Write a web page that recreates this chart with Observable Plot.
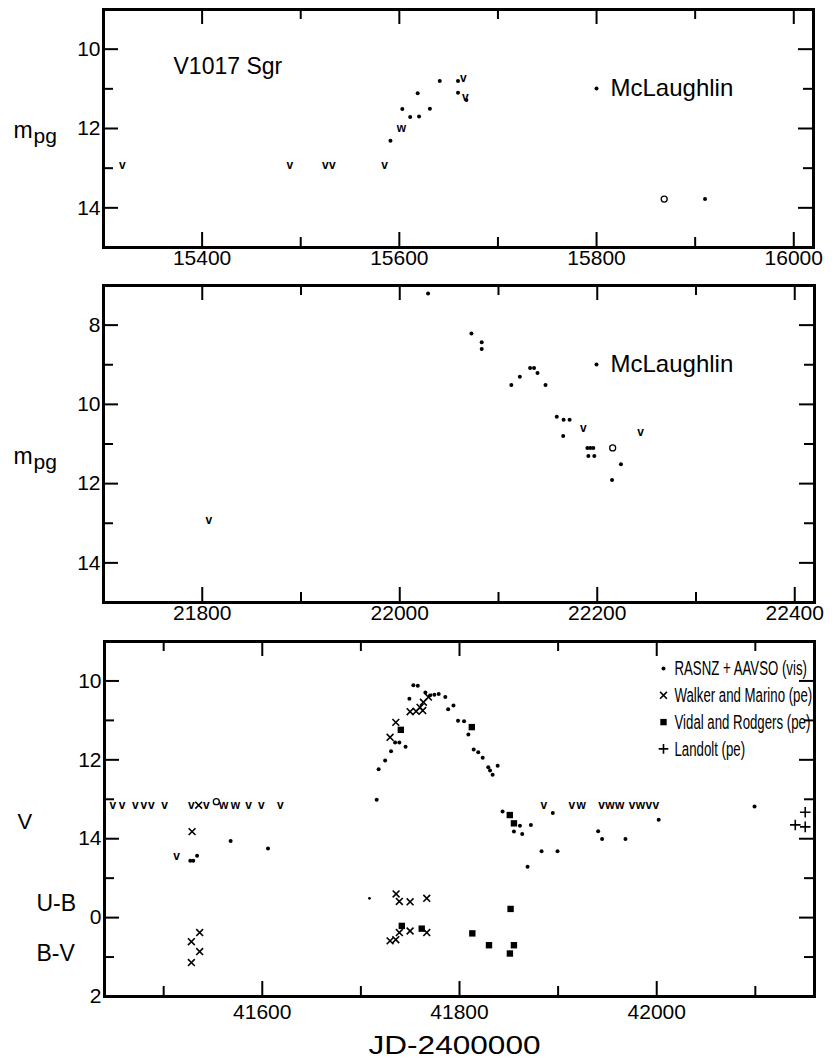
<!DOCTYPE html>
<html>
<head>
<meta charset="utf-8">
<script src="https://cdn.jsdelivr.net/npm/d3@7"></script>
<script src="https://cdn.jsdelivr.net/npm/@observablehq/plot@0.6"></script>
<style>
  html, body { margin: 0; padding: 0; background: #fff; }
  #chart svg { display: block; }
</style>
</head>
<body>
<div id="chart"></div>
<script>
// ---------------- DATA ----------------
// Panel 1 (McLaughlin, m_pg)
const p1Dots = [
  {jd: 15591, mag: 12.31}, {jd: 15603, mag: 11.51}, {jd: 15611, mag: 11.71},
  {jd: 15618.6, mag: 11.11}, {jd: 15620, mag: 11.70}, {jd: 15631, mag: 11.50},
  {jd: 15641, mag: 10.80}, {jd: 15659.5, mag: 10.80}, {jd: 15659.5, mag: 11.10},
  {jd: 15668, mag: 11.28}, {jd: 15910, mag: 13.78}
];
const p1Open = [{jd: 15868.6, mag: 13.78}];
const p1Upper = [
  {jd: 15319, mag: 12.93, sym: "v"}, {jd: 15489, mag: 12.93, sym: "v"},
  {jd: 15525, mag: 12.93, sym: "v"}, {jd: 15532, mag: 12.93, sym: "v"},
  {jd: 15585, mag: 12.93, sym: "v"}, {jd: 15602, mag: 12.0, sym: "w"},
  {jd: 15665, mag: 10.73, sym: "v"}, {jd: 15667, mag: 11.2, sym: "v"}
];

// Panel 2 (McLaughlin, m_pg)
const p2Dots = [
  {jd: 22028.7, mag: 7.2}, {jd: 22072.6, mag: 8.21}, {jd: 22083, mag: 8.43},
  {jd: 22083, mag: 8.60}, {jd: 22113, mag: 9.51}, {jd: 22121.6, mag: 9.30},
  {jd: 22132, mag: 9.08}, {jd: 22136, mag: 9.08}, {jd: 22139.5, mag: 9.21},
  {jd: 22147.6, mag: 9.51}, {jd: 22159, mag: 10.31}, {jd: 22165.9, mag: 10.39},
  {jd: 22172, mag: 10.39}, {jd: 22165.5, mag: 10.80}, {jd: 22190, mag: 11.10},
  {jd: 22193, mag: 11.10}, {jd: 22196, mag: 11.10}, {jd: 22191, mag: 11.30},
  {jd: 22197, mag: 11.30}, {jd: 22224, mag: 11.51}, {jd: 22215, mag: 11.91}
];
const p2Open = [{jd: 22215.6, mag: 11.10}];
const p2Upper = [
  {jd: 21806.7, mag: 12.93, sym: "v"}, {jd: 22185.8, mag: 10.60, sym: "v"},
  {jd: 22244, mag: 10.69, sym: "v"}
];

// Panel 3 (V)
const visV = [
  {jd: 41527, mag: 14.56}, {jd: 41530, mag: 14.56}, {jd: 41533.9, mag: 14.43},
  {jd: 41567.9, mag: 14.06}, {jd: 41605.8, mag: 14.25}, {jd: 41716, mag: 13.01},
  {jd: 41718, mag: 12.24}, {jd: 41724.6, mag: 12.02}, {jd: 41730.6, mag: 11.78},
  {jd: 41734.7, mag: 11.56}, {jd: 41739, mag: 11.56}, {jd: 41745.3, mag: 11.67},
  {jd: 41749.2, mag: 10.45}, {jd: 41753.2, mag: 10.11}, {jd: 41757.7, mag: 10.12},
  {jd: 41765.4, mag: 10.29}, {jd: 41770.1, mag: 10.37}, {jd: 41774.5, mag: 10.35},
  {jd: 41778.9, mag: 10.33}, {jd: 41785.6, mag: 10.41}, {jd: 41788.5, mag: 10.72},
  {jd: 41793.9, mag: 10.62}, {jd: 41798.5, mag: 11.01}, {jd: 41804.6, mag: 11.02},
  {jd: 41809, mag: 11.36}, {jd: 41814.4, mag: 11.74}, {jd: 41819, mag: 11.81},
  {jd: 41823.5, mag: 11.95}, {jd: 41829.2, mag: 12.19}, {jd: 41831, mag: 12.27},
  {jd: 41833.6, mag: 12.38}, {jd: 41838.7, mag: 12.15}, {jd: 41843.7, mag: 13.31},
  {jd: 41855.2, mag: 13.82}, {jd: 41861.3, mag: 13.67}, {jd: 41863.6, mag: 13.88},
  {jd: 41869, mag: 14.71}, {jd: 41872.4, mag: 13.65}, {jd: 41883.2, mag: 14.32},
  {jd: 41894.6, mag: 13.35}, {jd: 41899.4, mag: 14.32}, {jd: 41940.6, mag: 13.81},
  {jd: 41944.6, mag: 14.01}, {jd: 41968.3, mag: 14.01}, {jd: 42002, mag: 13.52},
  {jd: 42099.2, mag: 13.18}
];
const visOpen = [{jd: 41553.4, mag: 13.06}];
const visUpper = [
  {jd: 41448.4, mag: 13.15, sym: "v"}, {jd: 41457.9, mag: 13.15, sym: "v"},
  {jd: 41471.4, mag: 13.15, sym: "v"}, {jd: 41479.8, mag: 13.15, sym: "v"},
  {jd: 41487.6, mag: 13.15, sym: "v"}, {jd: 41501, mag: 13.15, sym: "v"},
  {jd: 41528, mag: 13.15, sym: "v"}, {jd: 41543.3, mag: 13.15, sym: "v"},
  {jd: 41560.8, mag: 13.15, sym: "w"}, {jd: 41572.7, mag: 13.15, sym: "w"},
  {jd: 41586, mag: 13.15, sym: "v"}, {jd: 41599, mag: 13.15, sym: "v"},
  {jd: 41618.2, mag: 13.15, sym: "v"}, {jd: 41513, mag: 14.45, sym: "v"},
  {jd: 41885.5, mag: 13.15, sym: "v"}, {jd: 41914, mag: 13.15, sym: "v"},
  {jd: 41923.5, mag: 13.15, sym: "w"}, {jd: 41944, mag: 13.15, sym: "v"},
  {jd: 41952.5, mag: 13.15, sym: "w"}, {jd: 41962.5, mag: 13.15, sym: "w"},
  {jd: 41975, mag: 13.15, sym: "v"}, {jd: 41983.5, mag: 13.15, sym: "w"},
  {jd: 41992, mag: 13.15, sym: "v"}, {jd: 41999, mag: 13.15, sym: "v"}
];
const wmV = [
  {jd: 41528.8, mag: 13.82}, {jd: 41535.5, mag: 13.15}, {jd: 41729.6, mag: 11.43},
  {jd: 41735.4, mag: 11.05}, {jd: 41749.9, mag: 10.78}, {jd: 41756, mag: 10.77},
  {jd: 41760, mag: 10.67}, {jd: 41762.7, mag: 10.75}, {jd: 41763.4, mag: 10.54},
  {jd: 41768.5, mag: 10.41}
];
const vrV = [
  {jd: 41740.5, mag: 11.24}, {jd: 41812.5, mag: 11.17},
  {jd: 41851, mag: 13.40}, {jd: 41855.2, mag: 13.61}
];
const landoltV = [
  {jd: 42150.6, mag: 13.33}, {jd: 42140.5, mag: 13.65}, {jd: 42150.6, mag: 13.70}
];
// Colours (U-B, B-V)
const wmUB = [
  {jd: 41528.1, c: 0.61}, {jd: 41536.5, c: 0.38}, {jd: 41735.7, c: -0.60},
  {jd: 41739, c: -0.41}, {jd: 41749.9, c: -0.40}, {jd: 41766.8, c: -0.49}
];
const wmBV = [
  {jd: 41528.1, c: 1.14}, {jd: 41536.5, c: 0.86}, {jd: 41729.6, c: 0.59},
  {jd: 41735.4, c: 0.56}, {jd: 41739, c: 0.38}, {jd: 41749.9, c: 0.34},
  {jd: 41766.8, c: 0.38}
];
const vrUB = [{jd: 41851.8, c: -0.22}];
const vrBV = [
  {jd: 41741.5, c: 0.21}, {jd: 41761.7, c: 0.28}, {jd: 41813, c: 0.40},
  {jd: 41829.9, c: 0.70}, {jd: 41855.2, c: 0.70}, {jd: 41851.1, c: 0.91}
];
const visUB = [{jd: 41708.7, c: -0.49}];

// Tick values and labels
const p1XTicks = [15400, 15500, 15600, 15700, 15800, 15900, 16000];
const p2XTicks = [21800, 21900, 22000, 22100, 22200, 22300, 22400];
const p3XTicks = [41500, 41600, 41700, 41800, 41900, 42000, 42100];
const p1YTicks = [10, 11, 12, 13, 14];
const p2YTicks = [8, 9, 10, 11, 12, 13, 14];
const p3YTicks = [10, 11, 12, 13, 14, 15, 16, 17];
const p3YLabelTicks = [10, 12, 14, 16, 18];
const p3YLabels = ["10", "12", "14", "0", "2"];
const legendLabels = ["RASNZ + AAVSO (vis)", "Walker and Marino (pe)", "Vidal and Rodgers (pe)", "Landolt (pe)"];
const legendSymbols = ["circle", "times", "square", "plus"];
const starName = "V1017 Sgr";
const mclLabel = "McLaughlin";
const xTitle = "JD-2400000";

// ---------------- DRAWING ----------------
const FONT = "'Liberation Sans', Arial, Helvetica, sans-serif";
const W = 832;
const COLOR_ZERO = 16; // V-scale position of colour index 0

function panel({height, mt, mb, ml, mr, xDomain, yDomain, xTicks, yTicks,
                yLabelTicks, yFormat, xPad, marks}) {
  const fw = W - ml - mr, fh = height - mt - mb;
  const xMaj = xTicks.filter(d => d % 200 === 0), xMin = xTicks.filter(d => d % 200 !== 0);
  const yMaj = yTicks.filter(d => d % 2 === 0), yMin = yTicks.filter(d => d % 2 !== 0);
  const L = 15, S = 10, sw = 2;
  return Plot.plot({
    width: W, height,
    marginTop: mt, marginBottom: mb, marginLeft: ml, marginRight: mr,
    style: {fontFamily: FONT, fontSize: "21px", color: "black", background: "white", overflow: "visible"},
    x: {domain: xDomain},
    y: {domain: yDomain, reverse: true},
    marks: [
      Plot.ruleX(xMaj, {x: d => d, insetTop: fh - L, strokeWidth: sw}),
      Plot.ruleX(xMaj, {x: d => d, insetBottom: fh - L, strokeWidth: sw}),
      Plot.ruleX(xMin, {x: d => d, insetTop: fh - S, strokeWidth: sw}),
      Plot.ruleX(xMin, {x: d => d, insetBottom: fh - S, strokeWidth: sw}),
      Plot.ruleY(yMaj, {y: d => d, insetRight: fw - L, strokeWidth: sw}),
      Plot.ruleY(yMaj, {y: d => d, insetLeft: fw - L, strokeWidth: sw}),
      Plot.ruleY(yMin, {y: d => d, insetRight: fw - S, strokeWidth: sw}),
      Plot.ruleY(yMin, {y: d => d, insetLeft: fw - S, strokeWidth: sw}),
      Plot.axisX({ticks: xMaj, anchor: "bottom", tickSize: 0, tickPadding: xPad,
                  tickFormat: d => String(d), label: null, fontSize: 21}),
      Plot.axisY({ticks: yLabelTicks || yMaj, anchor: "left", tickSize: 0, tickPadding: 3,
                  tickFormat: yFormat || (d => String(d)), label: null, fontSize: 21}),
      ...marks,
      Plot.frame({strokeWidth: 3})
    ]
  });
}

function ylabelM(dy) {
  return [
    Plot.text(["m"], {text: d => d, frameAnchor: "left", dx: -90, dy, textAnchor: "start", lineAnchor: "bottom", fontSize: 23}),
    Plot.text(["pg"], {text: d => d, frameAnchor: "left", dx: -70, dy: dy + 5, textAnchor: "start", lineAnchor: "bottom", fontSize: 21})
  ];
}
function mcLaughlinKey() {
  return [
    Plot.dot([0], {frameAnchor: "top-left", dx: 493, dy: 79, r: 2, fill: "black"}),
    Plot.text([mclLabel], {text: d => d, frameAnchor: "top-left", dx: 507, dy: 79, textAnchor: "start", lineAnchor: "middle", fontSize: 24})
  ];
}
const upperText = (data) => Plot.text(data, {x: "jd", y: "mag", text: "sym", fontSize: 12, fontWeight: "bold"});
const dots = (data, y = "mag", r = 2) => Plot.dot(data, {x: "jd", y, r, fill: "black"});
const openDots = (data) => Plot.dot(data, {x: "jd", y: "mag", r: 3, stroke: "black", strokeWidth: 1.3, fill: "white"});
const crosses = (data, y = "mag") => Plot.dot(data, {x: "jd", y, symbol: "times", r: 3.2, stroke: "black", strokeWidth: 1.6, fill: "none"});
const squares = (data, y = "mag") => Plot.dot(data, {x: "jd", y, symbol: "square", r: 3.6, fill: "black"});
const pluses = (data) => Plot.dot(data, {x: "jd", y: "mag", symbol: "plus", r: 3.5, stroke: "black", strokeWidth: 1.6, fill: "none"});
const colY = d => COLOR_ZERO + d.c;

const plot1 = panel({
  height: 276, mt: 9, mb: 29, ml: 103, mr: 19,
  xDomain: [15300, 16020], yDomain: [9, 15],
  xTicks: p1XTicks, yTicks: p1YTicks, xPad: 3,
  marks: [
    dots(p1Dots), openDots(p1Open), upperText(p1Upper),
    Plot.text([starName], {text: d => d, frameAnchor: "top-left", dx: 70, dy: 64, textAnchor: "start", lineAnchor: "bottom", fontSize: 23}),
    ...mcLaughlinKey(),
    ...ylabelM(9)
  ]
});

const plot2 = panel({
  height: 355, mt: 9, mb: 29, ml: 103, mr: 18,
  xDomain: [21700, 22420], yDomain: [7, 15],
  xTicks: p2XTicks, yTicks: p2YTicks, xPad: 3,
  marks: [
    dots(p2Dots), openDots(p2Open), upperText(p2Upper),
    ...mcLaughlinKey(),
    ...ylabelM(20)
  ]
});

const legendMarks = legendLabels.flatMap((lab, i) => {
  const dy = 27 + i * 26.8;
  const sym = legendSymbols[i];
  const filled = sym === "circle" || sym === "square";
  return [
    Plot.dot([lab], {frameAnchor: "top-left", dx: 559, dy, symbol: sym,
      r: sym === "circle" ? 2 : sym === "square" ? 3.6 : 3.2,
      fill: filled ? "black" : "none", stroke: filled ? null : "black", strokeWidth: 1.6}),
    Plot.text([lab], {text: d => d, frameAnchor: "top-left", dx: 570, dy, textAnchor: "start", lineAnchor: "middle", fontSize: 21})
  ];
});

const p3LabelMap = new Map(p3YLabelTicks.map((t, i) => [t, p3YLabels[i]]));
const plot3 = panel({
  height: 426, mt: 10, mb: 61, ml: 104, mr: 18,
  xDomain: [41440, 42160], yDomain: [9, 18],
  xTicks: p3XTicks, yTicks: p3YTicks, yLabelTicks: p3YLabelTicks,
  yFormat: d => p3LabelMap.get(d), xPad: 8,
  marks: [
    dots(visV), openDots(visOpen), upperText(visUpper),
    crosses(wmV), squares(vrV), pluses(landoltV),
    crosses(wmUB, colY), crosses(wmBV, colY),
    squares(vrUB, colY), squares(vrBV, colY),
    dots(visUB, colY, 1.4),
    ...legendMarks,
    Plot.text(["V"], {text: d => d, frameAnchor: "top-left", dx: -87, dy: 187, textAnchor: "start", lineAnchor: "bottom", fontSize: 22}),
    Plot.text(["U-B"], {text: d => d, frameAnchor: "top-left", dx: -68, dy: 269, textAnchor: "start", lineAnchor: "bottom", fontSize: 23}),
    Plot.text(["B-V"], {text: d => d, frameAnchor: "top-left", dx: -68, dy: 319, textAnchor: "start", lineAnchor: "bottom", fontSize: 23}),
    Plot.text([xTitle], {text: d => d, frameAnchor: "bottom", dx: -5, dy: 57, lineAnchor: "bottom", fontSize: 25})
  ]
});

const chart = document.getElementById("chart");
chart.append(plot1, plot2, plot3);

// The reference typesets the legend horizontally condensed and the axis title wide:
// wrap those texts in a group that scales them horizontally about an anchor point.
const SVGNS = "http://www.w3.org/2000/svg";
function scaleTextX(el, k, anchor) {
  const svg = el.ownerSVGElement;
  const r = el.getBoundingClientRect();
  const pt = svg.createSVGPoint();
  pt.x = anchor === "middle" ? r.left + r.width / 2 : r.left;
  pt.y = r.top;
  const x0 = pt.matrixTransform(el.parentNode.getScreenCTM().inverse()).x;
  const g = document.createElementNS(SVGNS, "g");
  g.setAttribute("transform", `translate(${x0},0) scale(${k},1) translate(${-x0},0)`);
  el.parentNode.insertBefore(g, el);
  g.appendChild(el);
}
d3.select(chart).selectAll("text").nodes().forEach(el => {
  const t = el.textContent;
  if (legendLabels.includes(t)) scaleTextX(el, 0.63, "start");
  else if (t === xTitle) scaleTextX(el, 172 / el.getBoundingClientRect().width, "middle");
});
</script>
</body>
</html>
